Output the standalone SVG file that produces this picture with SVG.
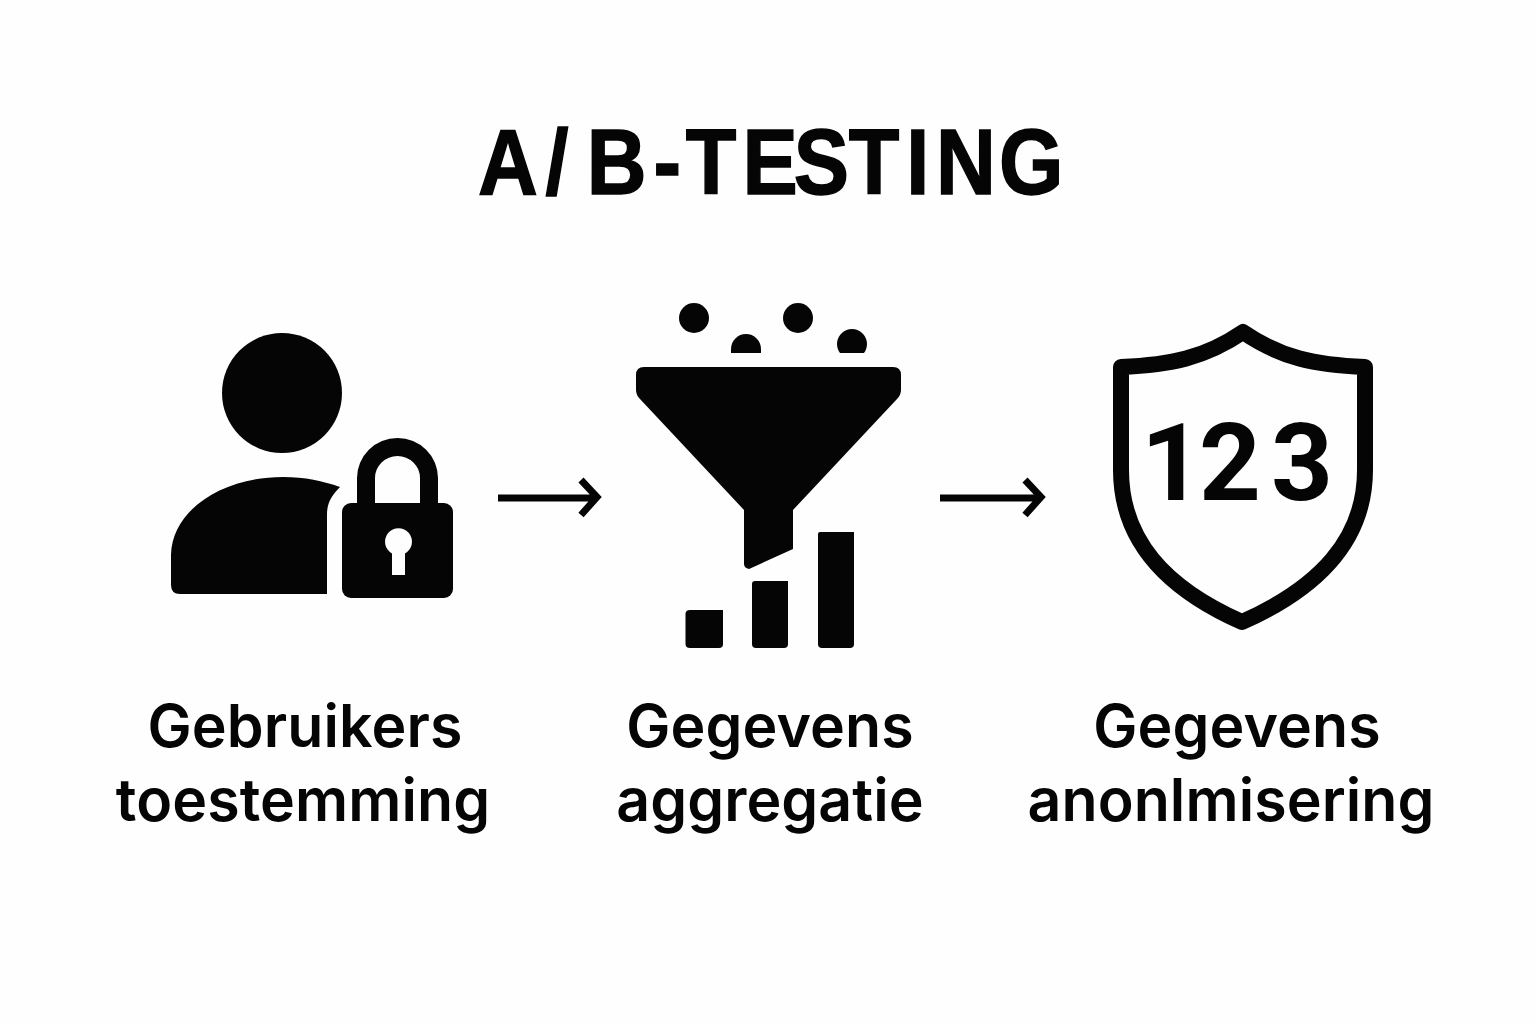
<svg xmlns="http://www.w3.org/2000/svg" width="1536" height="1024" viewBox="0 0 1536 1024">
<style>
.i{fill:#050505}
.t{font-family:Inter,"Noto Sans",sans-serif;fill:#050505;text-anchor:middle}
.l{font-size:59px;font-weight:600;letter-spacing:.1px}
.c{fill:none;stroke:#050505;stroke-width:7}
</style>
<rect width="1536" height="1024" fill="#fefefe"/>
<text id="title" transform="scale(.9 1)" x="531 606 652 726 762 825 882 943 1007 1040 1110" y="194" font-family="Liberation Sans,Arial,sans-serif" font-size="92" font-weight="700" fill="#050505" stroke="#050505" stroke-width="1.500">A/B-TESTING</text>
<g id="node-toestemming">
<circle class="i" cx="282" cy="393" r="60"/>
<path class="i" d="M171 555C172 510 222 477 283 477C305 477 323 481 340 487C332 495 327 503 327 514V594H180Q171 594 171 585Z"/>
<rect class="i" x="342" y="503" width="111" height="95" rx="9"/>
<path class="i" fill-rule="evenodd" d="M357 503V478A40.500 40 0 0 1 438 478V503H420V478A22.500 22 0 0 0 375 478V503Z"/>
<path d="M392 553.500A13.500 13.500 0 1 1 405 553.500V575H392Z" fill="#fefefe"/>
<text class="t l" x="305" y="747">Gebruikers</text>
<text class="t l" x="303" y="821">toestemming</text>
</g>
<g id="node-aggregatie">
<circle class="i" cx="694" cy="318" r="15"/>
<circle class="i" cx="798" cy="318" r="15"/>
<path class="i" d="M731 353V349A15 15 0 0 1 761 349V353Z"/>
<path class="i" d="M840 353A15 15 0 1 1 864 353Z"/>
<path class="i" d="M644 367H893Q901 367 901 375V390Q901 395 897 399L793 510V549L749 569Q744 568 744 564V510L640 399Q636 395 636 390V375Q636 367 644 367Z"/>
<path class="i" d="M690 610H723V644Q723 648 719 648H690Q685.500 648 685.500 644V614Q685.500 610 690 610Z"/>
<path class="i" d="M755 581H788V644Q788 648 784 648H756Q752 648 752 644V584Q752 581 755 581Z"/>
<path class="i" d="M820 532H854V644Q854 648 850 648H822Q818 648 818 644V534Q818 532 820 532Z"/>
<text class="t l" x="770" y="747">Gegevens</text>
<text class="t l" x="770" y="821">aggregatie</text>
</g>
<g id="node-anonimisering">
<path d="M1243 332C1205 358 1170 365 1121 367V470C1121 540 1165 588 1242 622C1319 588 1365 540 1365 470V367C1315 365 1281 358 1243 332Z" fill="none" stroke="#050505" stroke-width="16" stroke-linejoin="round"/>
<text x="1172 1230 1302" y="500" font-family="Roboto,sans-serif" font-size="108" font-weight="700" fill="#050505" text-anchor="middle">123</text>
<text class="t l" x="1237" y="747">Gegevens</text>
<text class="t l" x="1231" y="821">anonlmisering</text>
</g>
<g id="connectors">
<path class="c" d="M498 498H596M581 480L597 497L581 515"/>
<path class="c" d="M940 498H1040M1025 480L1041 497L1025 515"/>
</g>
</svg>
